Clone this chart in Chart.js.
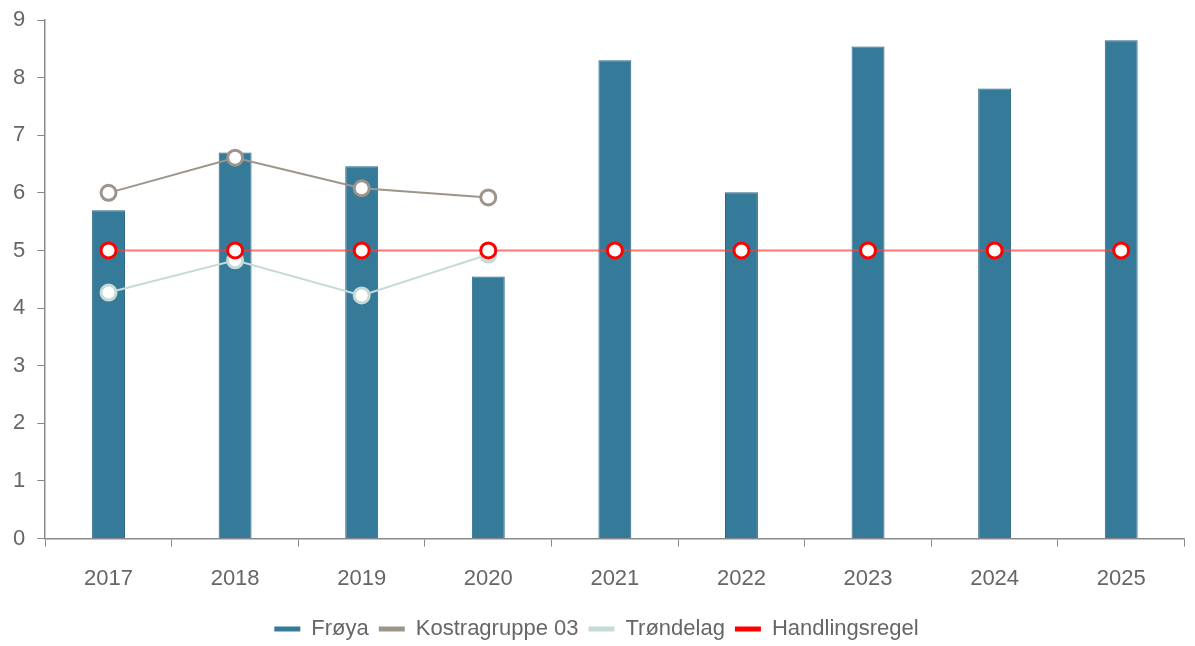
<!DOCTYPE html>
<html>
<head>
<meta charset="utf-8">
<script src="https://cdn.jsdelivr.net/npm/chart.js@4"></script>
<style>
  html, body { margin: 0; padding: 0; background: #fff; overflow: hidden; }
  #wrap { width: 1195px; height: 646px; position: relative; }
  canvas { display: block; }
</style>
</head>
<body>
<div id="wrap"><canvas id="chart"></canvas></div>
<script>
// data
const years = ['2017', '2018', '2019', '2020', '2021', '2022', '2023', '2024', '2025'];
const froya = [5.7, 6.7, 6.46, 4.55, 8.3, 6.01, 8.54, 7.81, 8.65];
const kostra = [6.0, 6.61, 6.08, 5.92, null, null, null, null, null];
const trondelag = [4.27, 4.83, 4.22, 4.93, null, null, null, null, null];
const regel = [5, 5, 5, 5, 5, 5, 5, 5, 5];

const tickColor = '#666';
const axisColor = '#8a8a8a';
const font = { family: 'Liberation Sans', size: 22 };

function lineSet(label, values, color, border, order) {
    return {
        type: 'line',
        label: label,
        data: values,
        borderColor: border,
        backgroundColor: color,
        borderWidth: 2,
        tension: 0,
        pointRadius: 7.5,
        pointHoverRadius: 7.5,
        pointBorderWidth: 3,
        pointBackgroundColor: '#fff',
        pointBorderColor: color,
        spanGaps: false,
        order: order
    };
}

let ctx = document.getElementById('chart').getContext('2d');

new Chart(ctx, {
    data: {
        labels: years,
        datasets: [
            {
                type: 'bar',
                label: 'Frøya',
                data: froya,
                backgroundColor: '#367a99',
                borderColor: '#2b6683',
                borderWidth: 1,
                categoryPercentage: 1,
                barPercentage: 0.26,
                order: 4
            },
            lineSet('Kostragruppe 03', kostra, '#9d958b', '#9d958b', 3),
            lineSet('Trøndelag', trondelag, '#c6dbd8', '#c6dbd8', 2),
            lineSet('Handlingsregel', regel, '#ff0000', 'rgba(255,60,60,0.7)', 1)
        ]
    },
    options: {
        responsive: true,
        maintainAspectRatio: false,
        animation: false,
        layout: { padding: { top: 20, right: 3, left: 1, bottom: -4 } },
        plugins: {
            tooltip: { enabled: false },
            legend: {
                position: 'bottom',
                labels: {
                    font: font,
                    color: tickColor,
                    boxWidth: 26,
                    boxHeight: 5,
                    padding: 10,
                    generateLabels: function (chart) {
                        return chart.data.datasets.map((ds, i) => ({
                            text: ds.label,
                            fillStyle: ds.backgroundColor,
                            strokeStyle: ds.backgroundColor,
                            lineWidth: 0,
                            fontColor: tickColor,
                            datasetIndex: i
                        }));
                    }
                }
            }
        },
        scales: {
            x: {
                offset: true,
                afterFit: function (scale) {
                    // pull the axis a bit closer to the legend
                    scale.height -= 3;
                    scale.paddingLeft = 0;
                    scale.paddingRight = 0;
                },
                grid: {
                    display: true,
                    offset: true,
                    drawOnChartArea: false,
                    drawTicks: true,
                    tickLength: 8,
                    color: axisColor
                },
                border: { display: true, color: axisColor, width: 1.5 },
                ticks: { font: font, color: tickColor, padding: 19 }
            },
            y: {
                min: 0,
                max: 9,
                afterFit: function (scale) {
                    scale.paddingTop = 0;
                    scale.paddingBottom = 0;
                },
                grid: {
                    display: true,
                    drawOnChartArea: false,
                    drawTicks: true,
                    tickLength: 8,
                    color: axisColor
                },
                border: { display: true, color: axisColor, width: 1.5 },
                ticks: { stepSize: 1, font: font, color: tickColor, padding: 12 }
            }
        }
    }
});
</script>
</body>
</html>
